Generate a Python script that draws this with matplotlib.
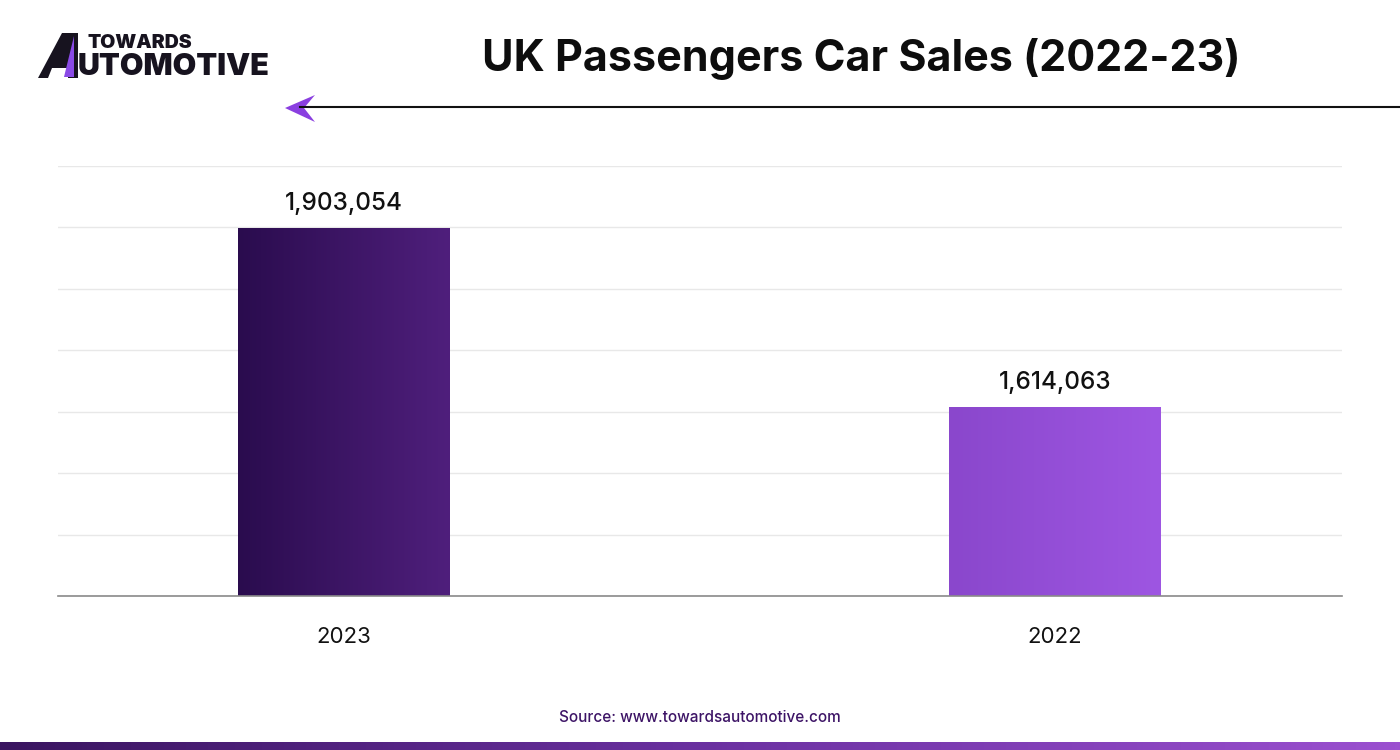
import matplotlib.pyplot as plt
import numpy as np
from matplotlib.patches import Polygon
from matplotlib.colors import LinearSegmentedColormap

plt.rcParams['font.family'] = ['Inter', 'DejaVu Sans']

# data
years = ['2023', '2022']
sales = [1903054, 1614063]
labels = ['1,903,054', '1,614,063']
bar_colors = [('#2a0c4e', '#4f1f7c'), ('#8a47cc', '#9e56e2')]

fig = plt.figure(figsize=(14, 7.5), dpi=100)
W, H = 1400, 750

def fx(px):
    return px / W

def fy(py):
    return 1 - py / H

ymin, ymax = 1309000, 2003000

# main axes
ax = fig.add_axes([fx(58), fy(596), fx(1342) - fx(58), fy(166) - fy(596)])
x = np.arange(len(years))
bars = ax.bar(x, sales, width=0.298, color='none', zorder=3)

# gradient fill for bars
for b, (c0, c1) in zip(bars, bar_colors):
    cmap = LinearSegmentedColormap.from_list('g', [c0, c1])
    grad = np.linspace(0, 1, 256).reshape(1, -1)
    x0, w = b.get_x(), b.get_width()
    im = ax.imshow(grad, cmap=cmap, aspect='auto', zorder=3,
                   extent=[x0, x0 + w, ymin, b.get_height()])
    im.set_clip_path(b)
ax.set_xlim(-0.402, 1.404)
ax.set_ylim(ymin, ymax)

for xi, v, lab in zip(x, sales, labels):
    ax.annotate(lab, (xi, v), xytext=(0, 9), textcoords='offset points',
                ha='center', va='bottom', fontsize=17.5, fontweight='medium', color='#111111')

ax.set_yticks(np.linspace(ymin, ymax, 8))
ax.yaxis.grid(True, color='#e8e8e8', linewidth=1, zorder=0)
ax.set_yticklabels([])
ax.tick_params(axis='y', length=0)
ax.set_xticks(x)
ax.set_xticklabels(years, fontsize=16, color='#111111')
ax.tick_params(axis='x', length=0, pad=22)
for s in ['top', 'right', 'left']:
    ax.spines[s].set_visible(False)
ax.spines['bottom'].set_color('#8a8a8a')
ax.spines['bottom'].set_linewidth(1.2)
ax.spines['bottom'].set_zorder(4)

# title
fig.text(fx(861), fy(59), 'UK Passengers Car Sales (2022-23)', ha='center', va='center',
         fontsize=31, fontweight='bold', color='#0d0d0d')

# header line with arrow
fig.add_artist(plt.Line2D([fx(300), fx(1400)], [fy(107), fy(107)], color='#111111', lw=1.5))
fig.add_artist(Polygon([[fx(285), fy(108)], [fx(315), fy(95)], [fx(304), fy(108)], [fx(315), fy(122)]],
                       closed=True, facecolor='#8a3fe0', edgecolor='none', transform=fig.transFigure))

# logo
fig.add_artist(Polygon([[fx(38), fy(78)], [fx(62), fy(33)], [fx(78), fy(33)], [fx(78), fy(78)], [fx(68), fy(78)],
                        [fx(68), fy(68)], [fx(52), fy(68)], [fx(48), fy(78)]],
                       closed=True, facecolor='#17131f', edgecolor='none', transform=fig.transFigure))
fig.add_artist(Polygon([[fx(64), fy(77)], [fx(74), fy(36)], [fx(74), fy(77)]],
                       closed=True, facecolor='#8a4ae6', edgecolor='none', transform=fig.transFigure))
fig.text(fx(88), fy(43), 'TOWARDS', ha='left', va='center', fontsize=14, fontweight='black', color='#17131f')
fig.text(fx(78), fy(67), 'UTOMOTIVE', ha='left', va='center', fontsize=22, fontweight='black', color='#17131f')

# source
fig.text(fx(700), fy(717), 'Source: www.towardsautomotive.com', ha='center', va='center',
         fontsize=11, fontweight='medium', color='#3d1466')

# bottom strip
sax = fig.add_axes([0, 0, 1, 8 / H])
strip = LinearSegmentedColormap.from_list('s', ['#3a1560', '#6a30a0', '#9b50d0'])
sax.imshow(np.linspace(0, 1, 256).reshape(1, -1), cmap=strip, aspect='auto')
sax.axis('off')

fig.savefig('out.png', dpi=100)
